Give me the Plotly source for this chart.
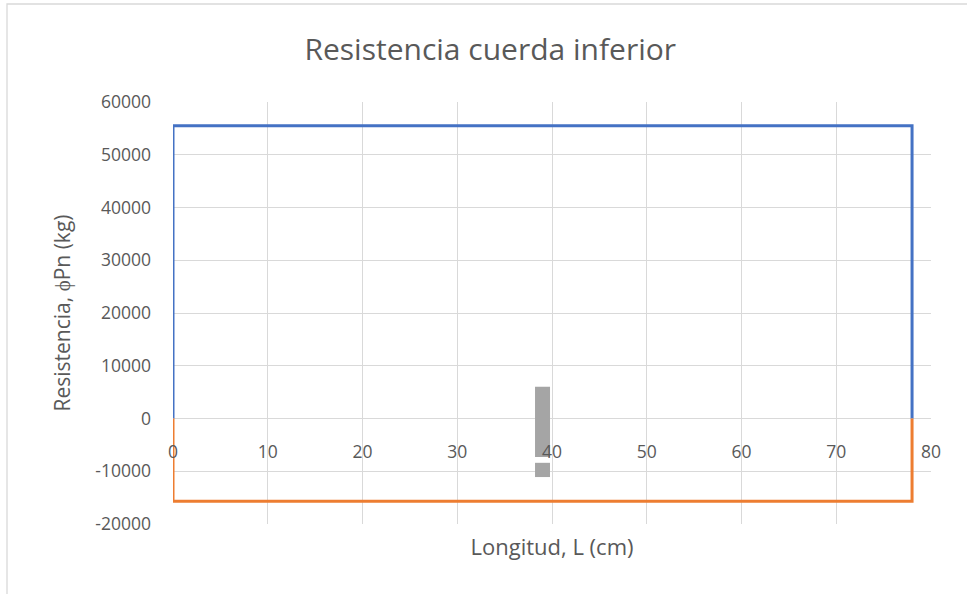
import plotly.graph_objects as go

# Data
blue_x = [0, 0, 78, 78]
blue_y = [0, 55500, 55500, 0]
orange_x = [0, 0, 78, 78]
orange_y = [0, -15700, -15700, 0]
gray_x = [39, 39, None, 39, 39]
gray_y = [6000, -7300, None, -8400, -11100]

x_ticks = [0, 10, 20, 30, 40, 50, 60, 70, 80]
y_ticks = [-20000, -10000, 0, 10000, 20000, 30000, 40000, 50000, 60000]

title_text = "Resistencia cuerda inferior"
x_title = "Longitud, L (cm)"
y_title = "Resistencia, \u03d5Pn (kg)"

GRID = "#d9d9d9"
TXT = "#595959"
FONT = "Open Sans"

fig = go.Figure()
fig.add_trace(go.Scatter(x=gray_x, y=gray_y, mode="lines",
                         line=dict(color="#a5a5a5", width=15), showlegend=False))
fig.add_trace(go.Scatter(x=blue_x, y=blue_y, mode="lines",
                         line=dict(color="#4472c4", width=3), showlegend=False))
fig.add_trace(go.Scatter(x=orange_x, y=orange_y, mode="lines",
                         line=dict(color="#ed7d31", width=3), showlegend=False))

W, H = 967, 594
L, R, T, B = 173, 36, 102, 70
pw, ph = W - L - R, H - T - B

fig.update_layout(
    width=W, height=H,
    margin=dict(l=L, r=R, t=T, b=B),
    paper_bgcolor="white", plot_bgcolor="white",
    font=dict(family=FONT, color=TXT, size=16),
    title=dict(text=title_text, x=0.507, xref="container", xanchor="center",
               y=1 - 49 / H, yref="container", yanchor="middle",
               font=dict(size=30, color=TXT, family=FONT)),
    xaxis=dict(range=[0, 80], tickvals=x_ticks, showticklabels=False,
               showgrid=True, gridcolor=GRID, gridwidth=1.3, zeroline=False,
               showline=False,
               title=dict(text=x_title, font=dict(size=22, color=TXT), standoff=15)),
    xaxis2=dict(range=[0, 80], tickvals=x_ticks, ticktext=[str(v) for v in x_ticks],
                overlaying="x", anchor="free", position=0.25, side="bottom",
                showgrid=False, zeroline=False, showline=False,
                ticks="outside", ticklen=17, tickcolor="rgba(0,0,0,0)",
                tickfont=dict(size=17.5, color=TXT)),
    yaxis=dict(range=[-20000, 60000], tickvals=y_ticks,
               ticktext=[str(v) for v in y_ticks],
               showgrid=True, gridcolor=GRID, gridwidth=1.3,
               zeroline=True, zerolinecolor=GRID, zerolinewidth=1.3,
               showline=False, ticklabelstandoff=21,
               tickfont=dict(size=17.5, color=TXT),
               title=dict(text=y_title, font=dict(size=21, color=TXT), standoff=18)),
)

# dummy trace to activate xaxis2
fig.add_trace(go.Scatter(x=[None], y=[None], xaxis="x2", yaxis="y", showlegend=False,
                         hoverinfo="skip"))

# chart outer border
fig.add_shape(type="rect", xref="paper", yref="paper",
              x0=(7 - L) / pw, x1=(W + 20 - L) / pw,
              y0=-(B + 20) / ph, y1=1 + (T - 4) / ph,
              line=dict(color=GRID, width=1.3), fillcolor="rgba(0,0,0,0)", layer="below")

fig.write_html("out.html", config={"displayModeBar": False},
               post_script="document.body.style.margin='0';")
